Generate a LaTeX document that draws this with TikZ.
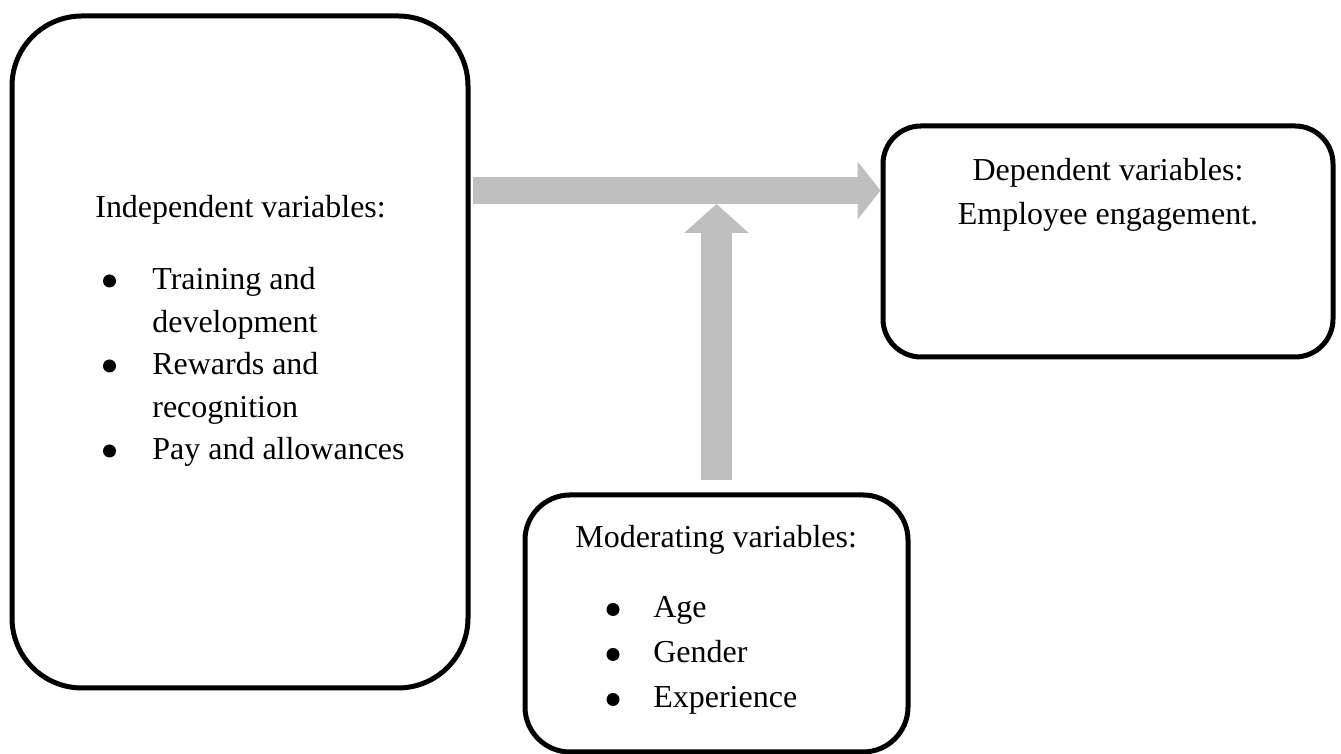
\documentclass[tikz,border=0pt]{standalone}
\usepackage{fontspec}
\setmainfont{Liberation Serif}
\usetikzlibrary{arrows.meta}
\definecolor{arrowgray}{RGB}{191,191,191}

\begin{document}
\begin{tikzpicture}[
  varbox/.style={draw,line width=0.1cm},
  vartext/.style={inner sep=0,anchor=base west,font=\fontsize{18.2}{24.2}\selectfont},
  midtext/.style={inner sep=0,anchor=base,font=\fontsize{18.2}{24.2}\selectfont},
  dot/.style={circle,fill,inner sep=0,minimum size=0.26cm},
  bigarrow/.style={draw=arrowgray,line width=#1}]
\useasboundingbox (0,0) rectangle (26.82,15.08);
% the three boxes
\node[varbox,rounded corners=1.4cm,minimum width=9.12cm,minimum height=13.44cm] (I) at (4.80,8.04) {};
\node[varbox,rounded corners=0.76cm,minimum width=9.0cm,minimum height=4.62cm] (D) at (22.16,10.25) {};
\node[varbox,rounded corners=0.9cm,minimum width=7.66cm,minimum height=5.14cm] (M) at (14.33,2.61) {};
% independent variables
\node[vartext] (Ihead) at (1.90,10.72) {Independent variables:};
\node[dot] (Ib1) at (2.19,9.46) {};
\node[vartext] (Itrain) at (3.04,9.28) {Training and};
\node[vartext] (Idev) at (3.04,8.43) {development};
\node[dot] (Ib2) at (2.19,7.76) {};
\node[vartext] (Irew) at (3.04,7.58) {Rewards and};
\node[vartext] (Irec) at (3.04,6.73) {recognition};
\node[dot] (Ib3) at (2.19,6.06) {};
\node[vartext] (Ipay) at (3.04,5.88) {Pay and allowances};
% dependent variables
\node[midtext] (Dhead) at (22.16,11.46) {Dependent variables:};
\node[midtext] (Deng) at (22.16,10.58) {Employee engagement.};
% moderating variables
\node[vartext] (Mhead) at (11.50,4.12) {Moderating variables:};
\node[dot] (Mb1) at (12.26,2.89) {};
\node[vartext] (Mage) at (13.06,2.72) {Age};
\node[dot] (Mb2) at (12.26,1.99) {};
\node[vartext] (Mgen) at (13.06,1.82) {Gender};
\node[dot] (Mb3) at (12.26,1.09) {};
\node[vartext] (Mexp) at (13.06,0.92) {Experience};
% block arrows
\coordinate (J) at (14.33,11.27);
\draw[bigarrow=0.54cm,-{Triangle[width=1.14cm,length=0.46cm,color=arrowgray]}] ([xshift=0.05cm]I.east |- J) -- (D.west |- J);
\draw[bigarrow=0.62cm,-{Triangle[width=1.26cm,length=0.58cm,color=arrowgray]}] ([yshift=0.25cm]M.north) -- ([yshift=-0.27cm]J);
\end{tikzpicture}
\end{document}
